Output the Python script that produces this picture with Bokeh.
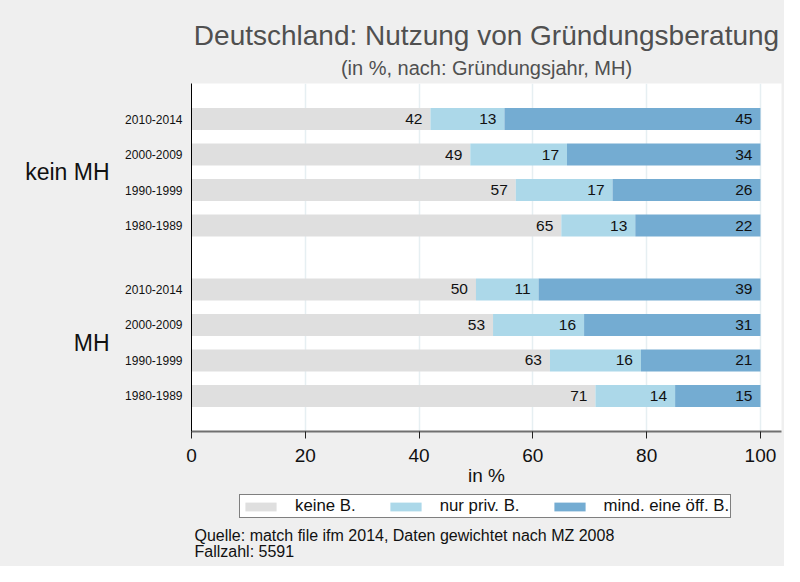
import numpy as np
from bokeh.plotting import figure
from bokeh.layouts import column
from bokeh.core.properties import value
from bokeh.models import (Range1d, FixedTicker, LinearAxis, Legend, LegendItem,
                          Title, ColumnDataSource, Label)
from bokeh.embed import file_html
from bokeh.resources import INLINE

# ---------------- data ----------------
groups = ["kein MH", "MH"]
periods = ["2010-2014", "2000-2009", "1990-1999", "1980-1989"]
keine_b = [42, 49, 57, 65, 50, 53, 63, 71]
nur_priv = [13, 17, 17, 13, 11, 16, 16, 14]
mind_oeff = [45, 34, 26, 22, 39, 31, 21, 15]
series_names = ["keine B.", "nur priv. B.", "mind. eine öff. B."]
x_ticks = [0, 20, 40, 60, 80, 100]
title_text = "Deutschland: Nutzung von Gründungsberatung"
subtitle_text = "(in %, nach: Gründungsjahr, MH)"
note_lines = ["Quelle: match file ifm 2014, Daten gewichtet nach MZ 2008", "Fallzahl: 5591"]

# ---------------- layout constants ----------------
FONT = "Liberation Sans"
BG = "#efefef"
colors = ["#dfdfdf", "#acd8e9", "#74acd2"]
group_gap = 0.8

n_per = len(periods)
ypos = []
for gi in range(len(groups)):
    for pi in range(n_per):
        ypos.append(round(gi * (n_per + group_gap) + pi, 2))
ypos = np.array(ypos)
group_centers = [round(float(np.mean(ypos[gi * n_per:(gi + 1) * n_per])), 2) for gi in range(len(groups))]

vals = np.array([keine_b, nur_priv, mind_oeff], dtype=float)
rights = np.cumsum(vals, axis=0)
lefts = rights - vals

W = 784
H1 = 488
H2 = 78
ML, MR = 191, 3

p = figure(width=W, height=H1, output_backend="svg", toolbar_location=None,
           x_range=Range1d(0, 103.7), y_range=Range1d(ypos[-1] + 1.0, ypos[0] - 1.0),
           min_border_left=ML, min_border_right=MR, min_border_top=83, min_border_bottom=56)
p.border_fill_color = BG
p.background_fill_color = "white"
p.outline_line_color = None

for k in range(3):
    src = ColumnDataSource(dict(y=ypos, left=lefts[k], right=rights[k],
                                lab=[str(int(v)) for v in vals[k]]))
    p.hbar(y="y", left="left", right="right", height=0.62, source=src,
           fill_color=colors[k], line_color=None)
    p.text(x="right", y="y", text="lab", source=src, x_offset=-8,
           text_align="right", text_baseline="middle", text_font_size="15.5px",
           text_font=value(FONT), text_color="#111111")

# grid
p.ygrid.visible = False
p.xgrid.ticker = FixedTicker(ticks=x_ticks)
p.xgrid.grid_line_color = "#e6eff2"
p.xgrid.grid_line_width = 1.5

# x axis
xa = p.xaxis[0]
xa.ticker = FixedTicker(ticks=x_ticks)
xa.axis_line_color = "#707070"
xa.axis_line_width = 2
xa.major_tick_line_color = "#222222"
xa.major_tick_line_width = 1
xa.major_tick_out = 7
xa.major_tick_in = 0
xa.minor_tick_line_color = None
xa.major_label_text_font = FONT
xa.major_label_text_font_size = "19px"
xa.major_label_text_color = "#111111"
xa.major_label_standoff = 10
xa.axis_label = "in %"
xa.axis_label_text_font = FONT
xa.axis_label_text_font_size = "19px"
xa.axis_label_text_font_style = "normal"
xa.axis_label_text_color = "#111111"
xa.axis_label_standoff = 0

# y axis (periods)
ya = p.yaxis[0]
ya.ticker = FixedTicker(ticks=list(ypos))
ya.major_label_overrides = {float(v): periods[i % n_per] for i, v in enumerate(ypos)}
ya.axis_line_color = "black"
ya.axis_line_width = 1
ya.major_tick_line_color = None
ya.major_tick_out = 0
ya.major_tick_in = 0
ya.minor_tick_line_color = None
ya.minor_tick_out = 0
ya.major_label_text_font = FONT
ya.major_label_text_font_size = "12px"
ya.major_label_text_color = "#111111"
ya.major_label_standoff = 9

# group axis
ga = LinearAxis(ticker=FixedTicker(ticks=group_centers),
                major_label_overrides={c: groups[i] for i, c in enumerate(group_centers)})
ga.axis_line_color = None
ga.major_tick_line_color = None
ga.major_tick_out = 0
ga.major_tick_in = 0
ga.minor_tick_line_color = None
ga.minor_tick_out = 0
ga.major_label_text_font = FONT
ga.major_label_text_font_size = "23px"
ga.major_label_text_color = "#111111"
ga.major_label_standoff = 13
p.add_layout(ga, "left")

# titles
sub = Title(text=subtitle_text, align="center",
            text_font=FONT, text_font_size="20px", text_font_style="normal",
            text_color="#505050", standoff=9)
p.add_layout(sub, "above")
tit = Title(text=title_text, align="center",
            text_font=FONT, text_font_size="28px", text_font_style="normal",
            text_color="#505050", standoff=-1)
p.add_layout(tit, "above")

# ---------------- bottom strip: legend + notes ----------------
# frame of this strip is aligned with the main frame; ranges are in page pixels
frame_left = 8 + ML
frame_right = 8 + W - MR
strip_top = 8 + H1
strip_bottom = strip_top + H2
p2 = figure(width=W, height=H2, output_backend="svg", toolbar_location=None,
            x_range=Range1d(frame_left, frame_right), y_range=Range1d(strip_bottom, strip_top),
            x_axis_location=None, y_axis_location=None,
            min_border_left=ML, min_border_right=MR, min_border_top=0, min_border_bottom=0)
p2.border_fill_color = BG
p2.background_fill_color = None
p2.outline_line_color = None
p2.grid.visible = False

# zero-width proxy glyphs that only carry the legend colours
legend_renderers = []
for k in range(3):
    r = p2.hbar(y=[strip_top], left=[frame_left], right=[frame_left], height=0,
                fill_color=colors[k], line_color=None)
    legend_renderers.append(r)

legend = Legend(items=[LegendItem(label=series_names[k], renderers=[legend_renderers[k]]) for k in range(3)],
                orientation="horizontal", location=(247 - frame_left, strip_bottom - 526),
                glyph_width=39, glyph_height=11, label_standoff=15, spacing=30,
                padding=1, margin=0,
                label_text_font=FONT, label_text_font_size="16.8px", label_text_color="#111111",
                border_line_color="black", border_line_width=1,
                background_fill_color="white", background_fill_alpha=1.0)
p2.add_layout(legend, "center")

for i, line in enumerate(note_lines):
    p2.add_layout(Label(x=frame_left + 3, y=543 + 16 * i, text=line, text_font=FONT,
                        text_font_size="16px", text_color="#111111",
                        text_baseline="middle", text_align="left"))

layout = column(p, p2, spacing=0, styles={"background-color": BG})
open("out.html", "w").write(file_html(layout, INLINE))
